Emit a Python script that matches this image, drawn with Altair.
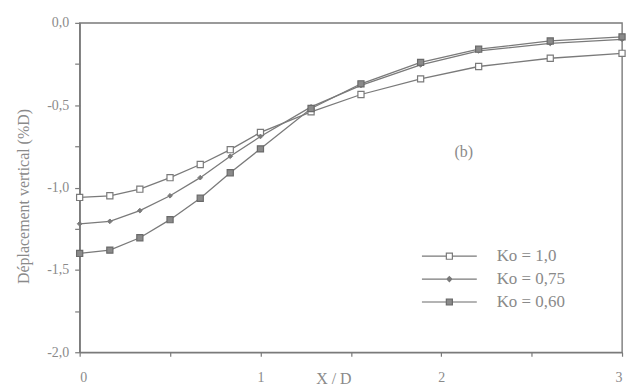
import altair as alt
import pandas as pd

# ---- data ----
x_vals = [0, 0.167, 0.333, 0.5, 0.667, 0.833, 1.0, 1.28, 1.556, 1.886, 2.207, 2.603, 3.0]
ko_100 = [-1.06, -1.05, -1.01, -0.94, -0.86, -0.77, -0.665, -0.54, -0.435, -0.34, -0.265, -0.215, -0.185]
ko_075 = [-1.22, -1.205, -1.14, -1.05, -0.94, -0.81, -0.69, -0.51, -0.38, -0.255, -0.17, -0.125, -0.10]
ko_060 = [-1.40, -1.38, -1.305, -1.195, -1.065, -0.91, -0.765, -0.52, -0.37, -0.24, -0.16, -0.11, -0.085]
series = ["Ko = 1,0", "Ko = 0,75", "Ko = 0,60"]
x_ticks = [0, 0.5, 1, 1.5, 2, 2.5, 3]
y_ticks = [-2, -1.75, -1.5, -1.25, -1, -0.75, -0.5, -0.25, 0]
annot_text = ["(b)"]
annot_x = [2.125]
annot_y = [-0.785]

GRAY = "#7a7a7a"
TXT = "#8a8a8a"
FONT = "Liberation Serif"

rows = []
for name, vals in zip(series, [ko_100, ko_075, ko_060]):
    for xv, yv in zip(x_vals, vals):
        rows.append({"x": xv, "y": yv, "series": name})
df = pd.DataFrame(rows)
ann = pd.DataFrame({"x": annot_x, "y": annot_y, "t": annot_text})

xenc = alt.X("x:Q", scale=alt.Scale(domain=[0, 3], nice=False, zero=False),
             axis=alt.Axis(values=x_ticks, grid=False,
                           labelExpr="datum.value % 1 == 0 ? format(datum.value, 'd') : ''",
                           title="X / D", titleX=255, titleY=26, titleBaseline="middle",
                           titleAlign="center", titleFontSize=16,
                           labelPadding=14, tickSize=4, labelFontSize=14))
yenc = alt.Y("y:Q", scale=alt.Scale(domain=[-2, 0], nice=False, zero=False),
             axis=alt.Axis(values=y_ticks, grid=False,
                           labelExpr="(datum.value*2) % 1 == 0 ? replace(replace(format(datum.value, '.1f'), '.', ','), '\u2212', '-') : ''",
                           title="Déplacement vertical (%D)", titleX=-56, titleY=174,
                           titleAngle=-90, titleBaseline="middle", titleAlign="center",
                           titleFontSize=16, labelPadding=6, tickSize=5, labelFontSize=14))

base = alt.Chart(df)

lines = base.mark_line(color=GRAY, strokeWidth=1.3).encode(x=xenc, y=yenc, detail="series:N")

p100 = base.transform_filter(alt.datum.series == series[0]).mark_point(
    shape="square", size=38, fill="white", stroke=GRAY, strokeWidth=1.2, opacity=1
).encode(x="x:Q", y="y:Q")
p075 = base.transform_filter(alt.datum.series == series[1]).mark_point(
    shape="diamond", size=22, fill=GRAY, stroke=GRAY, strokeWidth=1, opacity=1
).encode(x="x:Q", y="y:Q")
p060 = base.transform_filter(alt.datum.series == series[2]).mark_point(
    shape="square", size=38, fill="#8a8a8a", stroke="#6a6a6a", strokeWidth=1.2, opacity=1
).encode(x="x:Q", y="y:Q")

legend_paths = [
    "M-4,0H-0.44M0.44,0H4M-0.44,-0.44H0.44V0.44H-0.44Z",
    "M-4,0H4M0,-0.36L0.36,0L0,0.36L-0.36,0Z",
    "M-4,0H-0.44M0.44,0H4M-0.44,-0.44H0.44V0.44H-0.44Z",
]
leg = alt.Legend(title=None, orient="none", legendX=363, legendY=226,
                 symbolSize=190, symbolStrokeColor=GRAY, symbolStrokeWidth=1.2,
                 symbolOpacity=1, labelFont=FONT, labelFontSize=17, labelColor=TXT,
                 labelOffset=39, rowPadding=5, padding=0)
legend_layer = base.mark_point(opacity=0, filled=False).encode(
    x="x:Q", y="y:Q",
    shape=alt.Shape("series:N", scale=alt.Scale(domain=series, range=legend_paths), legend=leg),
    fill=alt.Fill("series:N", scale=alt.Scale(domain=series, range=["white", GRAY, "#8a8a8a"]), legend=leg),
    stroke=alt.Stroke("series:N", scale=alt.Scale(domain=series, range=[GRAY, GRAY, "#6a6a6a"]), legend=leg),
)

annot = alt.Chart(ann).mark_text(font=FONT, fontSize=16, color=TXT).encode(
    x="x:Q", y="y:Q", text="t:N")

chart = alt.layer(lines, p100, p075, p060, legend_layer, annot).properties(
    width=545, height=331,
    background="white",
    autosize=alt.AutoSizeParams(type="none"),
    padding={"left": 72, "top": 14, "right": 6, "bottom": 36},
).configure_view(stroke=GRAY, strokeWidth=1.4).configure_axis(
    domainColor=GRAY, tickColor=GRAY, domainWidth=1.4, tickWidth=1.2,
    labelColor=TXT, titleColor=TXT, labelFont=FONT, titleFont=FONT,
    titleFontWeight="normal",
)

chart.save("out.html", embed_options={"renderer": "svg", "actions": False})
